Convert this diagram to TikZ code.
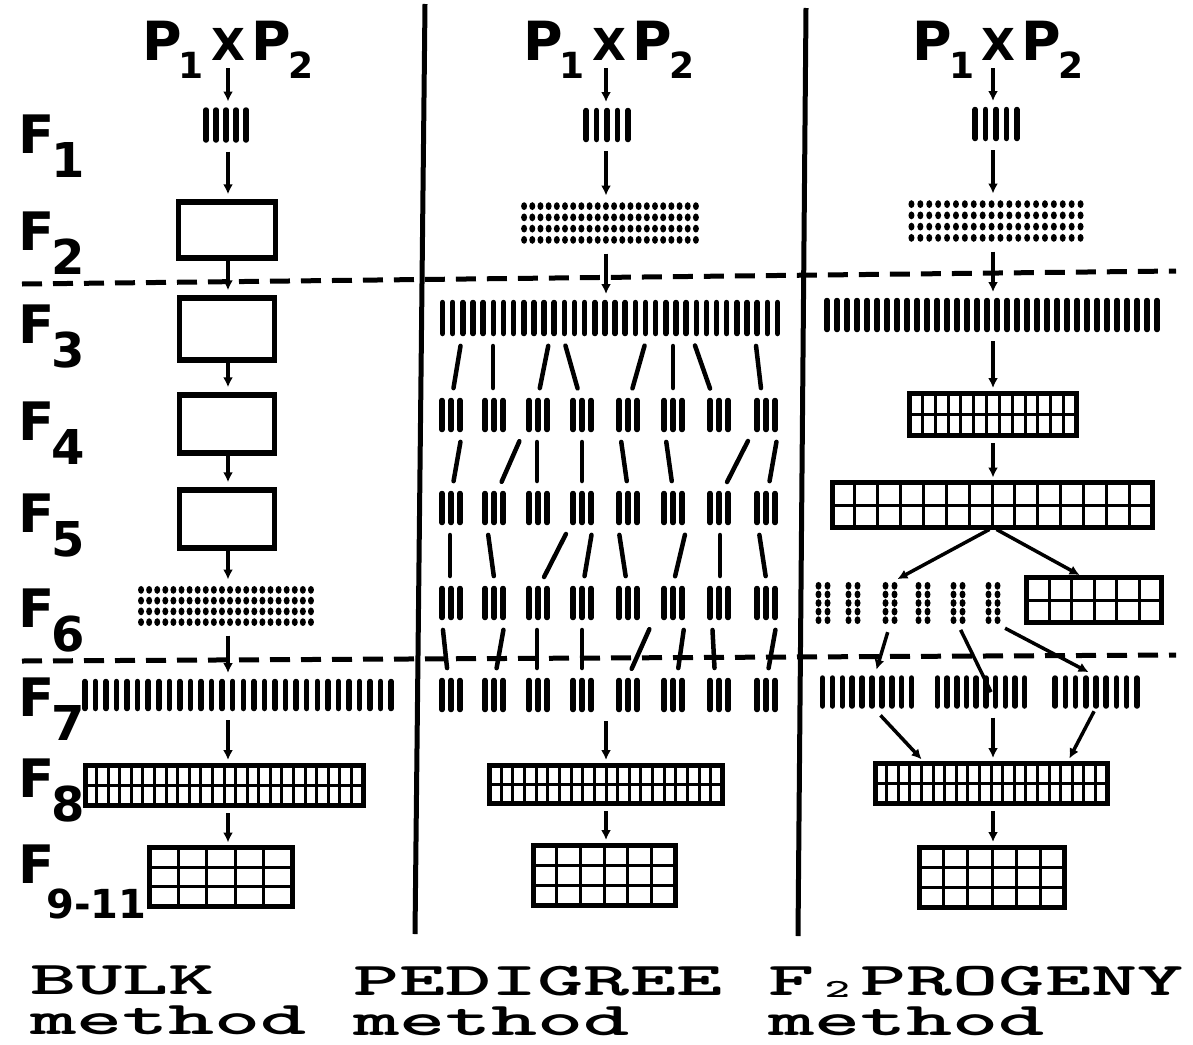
\documentclass[tikz,border=0pt]{standalone}
\usepackage{fontspec}
\usepackage{xcolor}
\usepackage{tikz}
\usetikzlibrary{arrows.meta, calc}
\setmainfont{DejaVu Sans}
\newfontfamily\methodfont{lmmonolt10-bold.otf}[FakeStretch=1.87]
\definecolor{inkBlack}{HTML}{000000}

\newcommand{\genlab}[2]{#1\kern-3pt\raisebox{-24pt}{\fontsize{48}{48}\selectfont #2}}
\newcommand{\parents}{P\kern-3pt\raisebox{-18pt}{\fontsize{36}{36}\selectfont 1}\kern7pt{\fontsize{44}{44}\selectfont X}\kern7pt P\kern-3pt\raisebox{-18pt}{\fontsize{36}{36}\selectfont 2}}

\begin{document}
\begin{tikzpicture}[
    x=1pt, y=-1pt, inkBlack,
    gen/.style={font=\fontsize{53}{60}\selectfont\bfseries, inner sep=0pt, anchor=base west},
    cross/.style={font=\fontsize{54}{60}\selectfont\bfseries, inner sep=0pt, anchor=base},
    method/.style={font=\methodfont\fontsize{47}{40}\selectfont, align=left, inner sep=0pt, anchor=north west},
    plainbox/.style={draw, line width=5.5pt, minimum width=95pt, minimum height=58pt, inner sep=0pt},
    stem/.style={line width=5.5pt, line cap=round},
    barrow/.style n args={3}{minimum width=#1, minimum height=#2, inner sep=0pt, outer sep=0pt,
        path picture={
            \foreach \k in {1,...,#3}
                \draw[stem] ([shift={({(\k-0.5)*#1/#3},3.5)}]path picture bounding box.north west) -- ++(0,#2-7);
        }},
    trio/.style={barrow={27}{36}{3}},
    dotgrid/.style n args={4}{minimum width=#1, minimum height=#2, inner sep=0pt, outer sep=0pt,
        path picture={
            \foreach \col in {1,...,#3}
                \foreach \row in {1,...,#4}
                    \fill ([shift={({(\col-0.5)*#1/#3},{(\row-0.5)*#2/#4})}]path picture bounding box.north west) ellipse (3pt and 3.9pt);
        }},
    cellgrid/.style n args={4}{draw, line width=5pt, minimum width=#1, minimum height=#2, inner sep=0pt, outer sep=0pt,
        path picture={
            \foreach \col in {1,...,#3}
                \draw[line width=3pt] ([shift={({\col*#1/#3},0)}]path picture bounding box.north west) -- ++(0,#2);
            \foreach \row in {1,...,#4}
                \draw[line width=3pt] ([shift={(0,{\row*#2/#4})}]path picture bounding box.north west) -- ++(#1,0);
        }},
    arrow/.style={-{Latex[length=10pt,width=10pt]}, line width=3.5pt, shorten <=8pt, shorten >=5pt},
    pick/.style={line width=4.5pt, line cap=round, shorten <=9pt, shorten >=9pt},
    wall/.style={line width=5pt},
    cut/.style={line width=5pt, dash pattern=on 20pt off 11pt},
]
    \useasboundingbox (0,0) rectangle (1193,1044);
    \fill[white] (0,0) rectangle (1193,1044);

    % column axes
    \coordinate (bx) at (228,0);
    \coordinate (px) at (606,0);
    \coordinate (qx) at (993,0);

    % Dividers and generation cuts
    \draw[wall] (425,4) -- (415,934);
    \draw[wall] (806,8) -- (798,936);
    \draw[cut] (22,284) -- (1176,271);
    \draw[cut] (22,661) -- (1176,655);

    % Generation labels
    \node[gen] (f1) at (18,153) {\genlab{F}{1}};
    \node[gen] (f2) at (18,250) {\genlab{F}{2}};
    \node[gen] (f3) at (18,343) {\genlab{F}{3}};
    \node[gen] (f4) at (18,440) {\genlab{F}{4}};
    \node[gen] (f5) at (18,532) {\genlab{F}{5}};
    \node[gen] (f6) at (18,627) {\genlab{F}{6}};
    \node[gen] (f7) at (18,716) {\genlab{F}{7}};
    \node[gen] (f8) at (18,797) {\genlab{F}{8}};
    \node[gen] (f9) at (18,883) {F\kern-8pt\raisebox{-35pt}{\fontsize{40}{40}\selectfont 9-11}};

    % Bulk method
    \node[cross] (bP) at (228,60) {\parents};
    \node[barrow={50}{37}{5}] (b1) at (226,125) {};
    \node[plainbox, minimum width=97pt, minimum height=56pt] (b2) at (227,230) {};
    \node[plainbox, minimum height=62pt] (b3) at (227,329) {};
    \node[plainbox] (b4) at (227,424) {};
    \node[plainbox] (b5) at (227,519) {};
    \node[dotgrid={178}{43}{22}{4}] (b6) at (226,606) {};
    \node[barrow={317}{34}{30}] (b7) at (238,695) {};
    \node[cellgrid={278}{40}{24}{2}] (b8) at (224,785) {};
    \node[cellgrid={143}{59}{5}{3}] (b9) at (221,877) {};

    \draw[arrow] (bP.base -| bx) -- (bx |- b1.north);
    \draw[arrow] (b1.south -| bx) -- (bx |- b2.north);
    \draw[arrow, shorten <=0pt] (b2.south -| bx) -- (bx |- b3.north);
    \draw[arrow, shorten <=0pt] (b3.south -| bx) -- (bx |- b4.north);
    \draw[arrow, shorten <=0pt] (b4.south -| bx) -- (bx |- b5.north);
    \draw[arrow, shorten <=0pt] (b5.south -| bx) -- (bx |- b6.north);
    \draw[arrow] (b6.south -| bx) -- (bx |- b7.north);
    \draw[arrow] (b7.south -| bx) -- (bx |- b8.north);
    \draw[arrow] (b8.south -| bx) -- (bx |- b9.north);

    % Pedigree method
    \node[cross] (pP) at (609,60) {\parents};
    \node[barrow={52}{36}{5}] (p1) at (607,125) {};
    \node[dotgrid={180}{45}{22}{4}] (p2) at (610,223) {};
    \node[barrow={345}{38}{34}] (p3) at (610,318) {};
    \foreach \k/\gx in {1/451, 2/494, 3/538, 4/582, 5/628, 6/673, 7/719, 8/766} {
        \node[trio] (p4-\k) at (\gx,415) {};
        \node[trio] (p5-\k) at (\gx,508) {};
        \node[trio] (p6-\k) at (\gx,603) {};
        \node[trio] (p7-\k) at (\gx,695) {};
    }
    \node[cellgrid={233}{38}{20}{2}] (p8) at (606,784) {};
    \node[cellgrid={142}{60}{6}{3}] (p9) at (604,875) {};

    \draw[arrow] (pP.base -| px) -- (px |- p1.north);
    \draw[arrow] (p1.south -| px) -- (px |- p2.north);
    \draw[arrow] (p2.south -| px) -- (px |- p3.north);
    \foreach \u/\g/\v in {-148/1/1, -117/2/-1, -60/3/0, -47/4/-2, 37/5/2, 63/6/0, 82/7/-6, 145/8/-4}
        \draw[pick] ([xshift=\u pt]p3.south) -- ([xshift=\v pt]p4-\g.north);
    \foreach \a/\u/\b/\v in {1/11/1/1, 3/-15/2/4, 3/-1/3/-1, 4/0/4/0, 5/-8/5/0, 6/-8/6/0, 8/-14/7/4, 8/12/8/2}
        \draw[pick] ([xshift=\u pt]p4-\a.south) -- ([xshift=\v pt]p5-\b.north);
    \foreach \a/\u/\b/\v in {1/-1/1/-1, 2/-7/2/1, 4/-12/3/2, 4/11/4/1, 5/-10/5/-1, 6/14/6/0, 7/1/7/1, 8/-8/8/1}
        \draw[pick] ([xshift=\u pt]p5-\a.south) -- ([xshift=\v pt]p6-\b.north);
    \foreach \a/\u/\b/\v in {1/-9/1/-3, 2/11/2/1, 3/-1/3/-1, 4/0/4/0, 6/-20/5/0, 6/12/6/4, 7/-7/7/-4, 8/11/8/1}
        \draw[pick] ([xshift=\u pt]p6-\a.south) -- ([xshift=\v pt]p7-\b.north);
    \draw[arrow] (p7-4.south -| px) -- (px |- p8.north);
    \draw[arrow] (p8.south -| px) -- (px |- p9.north);

    % F2 progeny method
    \node[cross] (qP) at (998,60) {\parents};
    \node[barrow={52}{36}{5}] (q1) at (996,124) {};
    \node[dotgrid={178}{45}{20}{4}] (q2) at (996,221) {};
    \node[barrow={340}{36}{34}] (q3) at (992,315) {};
    \node[cellgrid={167}{42}{13}{2}] (q4) at (993,414) {};
    \node[cellgrid={320}{45}{14}{2}] (q5) at (992,505) {};
    \foreach \k/\gx in {1/823, 2/853, 3/890, 4/923, 5/958, 6/993}
        \node[dotgrid={18}{43}{2}{5}] (q6-\k) at (\gx,603) {};
    \node[cellgrid={135}{45}{6}{2}] (q6r) at (1094,600) {};
    \node[barrow={99}{35}{10}] (q7-1) at (867,692) {};
    \node[barrow={97}{35}{10}] (q7-2) at (981,692) {};
    \node[barrow={92}{35}{9}] (q7-3) at (1096,692) {};
    \node[cellgrid={232}{40}{20}{2}] (q8) at (991,783) {};
    \node[cellgrid={145}{60}{6}{3}] (q9) at (992,877) {};

    \draw[arrow] (qP.base -| qx) -- (qx |- q1.north);
    \draw[arrow] (q1.south -| qx) -- (qx |- q2.north);
    \draw[arrow] (q2.south -| qx) -- (qx |- q3.north);
    \draw[arrow] (q3.south -| qx) -- (qx |- q4.north);
    \draw[arrow] (q4.south -| qx) -- (qx |- q5.north);
    \draw[arrow, shorten <=4pt] (q5.south -| qx) -- ([xshift=3pt]q6-3.north);
    \draw[arrow, shorten <=4pt] (q5.south -| qx) -- ([xshift=-10pt]q6r.north);
    \draw[arrow] (q6-3.south) -- ([xshift=8pt]q7-1.north);
    \draw[line width=3.5pt, shorten <=6pt] (q6-5.south) -- ([xshift=10pt]q7-2.center);
    \draw[arrow] ([xshift=5pt]q6-6.south) -- ([xshift=-3pt]q7-3.north);
    \draw[arrow] ([xshift=8pt]q7-1.south) -- ([xshift=-66pt]q8.north);
    \draw[arrow] (q7-2.south -| qx) -- (qx |- q8.north);
    \draw[arrow, shorten <=2pt] ([xshift=-1pt]q7-3.south) -- ([xshift=76pt]q8.north);
    \draw[arrow] (q8.south -| qx) -- (qx |- q9.north);

    % Method names
    \node[method] (mbulk) at (30,966) {BULK\\method};
    \node[method] (mped) at (353,966) {PEDIGREE\\method};
    \node[method] (mprog) at (768,966) {F\makebox[46.1pt][c]{\raisebox{-2pt}{\fontsize{26}{26}\selectfont 2}}PROGENY\\method};
\end{tikzpicture}
\end{document}
